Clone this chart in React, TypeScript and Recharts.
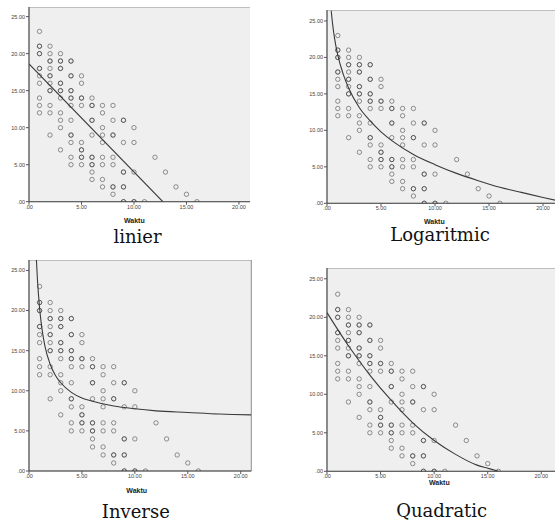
import React from "react"
import { ScatterChart, Scatter, XAxis, YAxis, CartesianGrid, ReferenceArea } from "recharts"

const waktu = [1, 2, 3, 4, 5, 6, 7, 8, 9, 10, 11, 12, 13, 14, 15, 16]
const nilaiPerWaktu = [
  [23, 21, 21, 20, 20, 18, 18, 17, 16, 14, 13, 12],
  [21, 20, 19, 19, 18, 17, 17, 16, 15, 15, 13, 12, 9],
  [20, 19, 19, 18, 18, 16, 16, 15, 15, 14, 12, 11, 10, 7],
  [19, 19, 17, 17, 15, 15, 14, 14, 13, 11, 9, 9, 8, 6, 5],
  [17, 16, 14, 14, 13, 8, 7, 7, 6, 6, 5],
  [14, 13, 13, 11, 11, 9, 6, 6, 5, 5, 4, 3],
  [13, 12, 10, 9, 8, 6, 5, 3, 2],
  [13, 11, 9, 9, 6, 5, 2, 2, 1],
  [11, 11, 8, 4, 4, 2, 2, 0, 0],
  [10, 8, 4, 0, 0],
  [0],
  [6],
  [4],
  [2],
  [1],
  [0],
]

// fitted curves, points
const linierFit = [
  { x: 0, y: 18.6 },
  { x: 12.75, y: 0 },
]
const logFit = [
  { x: 0.39, y: 26.4 }, { x: 0.5, y: 24.8 }, { x: 0.7, y: 22.6 }, { x: 1, y: 20.3 },
  { x: 1.5, y: 17.7 }, { x: 2, y: 15.8 }, { x: 3, y: 13.1 }, { x: 4, y: 11.3 },
  { x: 5, y: 9.8 }, { x: 6, y: 8.6 }, { x: 8, y: 6.7 }, { x: 10, y: 5.3 },
  { x: 12, y: 4.1 }, { x: 14, y: 3.1 }, { x: 16, y: 2.2 }, { x: 18, y: 1.5 },
  { x: 20, y: 0.8 }, { x: 21.2, y: 0.4 },
]
const inverseFit = [
  { x: 0.7, y: 26.3 }, { x: 0.8, y: 23.8 }, { x: 0.9, y: 21.9 }, { x: 1, y: 20.3 },
  { x: 1.25, y: 17.5 }, { x: 1.5, y: 15.6 }, { x: 2, y: 13.3 }, { x: 2.5, y: 11.9 },
  { x: 3, y: 11.0 }, { x: 4, y: 9.8 }, { x: 5, y: 9.1 }, { x: 6, y: 8.7 },
  { x: 8, y: 8.1 }, { x: 10, y: 7.75 }, { x: 12, y: 7.5 }, { x: 15, y: 7.3 },
  { x: 18, y: 7.1 }, { x: 21, y: 7.0 },
]
const quadraticFit = [
  { x: 0, y: 20.6 }, { x: 2, y: 16.3 }, { x: 4, y: 12.5 }, { x: 6, y: 9.2 },
  { x: 8, y: 6.3 }, { x: 10, y: 4.0 }, { x: 12, y: 2.2 }, { x: 14, y: 0.8 },
  { x: 15, y: 0.4 }, { x: 16, y: 0 },
]

const xTicks = [0, 5, 10, 15, 20]
const yTicks = [0, 5, 10, 15, 20, 25]

const points = waktu.flatMap((w, i) => nilaiPerWaktu[i].map((v) => ({ x: w, y: v })))

const fmt = (v: number) => (v === 0 ? ".00" : v.toFixed(2))
const tickStyle = { fontSize: 5.5, fill: "#444", fontFamily: "Liberation Sans, Arial, sans-serif" }
const Y_W = 30
const X_H = 14

const ring = (p: any) => (
  <circle cx={p.cx} cy={p.cy} r={2.2} fill="none" stroke="#2a2a2a" strokeOpacity={0.55} strokeWidth={0.9} />
)
const noDot = () => <g />

interface PanelProps {
  fit: Array<{ x: number; y: number }>
  box: { l: number; t: number; r: number; b: number }
  xMax: number
  yMax: number
  caption: { text: string; x: number; y: number }
  waktu: { x: number; y: number }
}

function Panel({ fit, box, xMax, yMax, caption, waktu: wk }: PanelProps) {
  const w = Y_W + (box.r - box.l)
  const h = box.b - box.t + X_H
  return (
    <>
      <div style={{ position: "absolute", left: box.l - Y_W, top: box.t }}>
        <ScatterChart width={w} height={h} margin={{ top: 0, right: 0, bottom: 0, left: 0 }}>
          <CartesianGrid horizontal={false} vertical={false} fill="#efefef" />
          <ReferenceArea x1={0} x2={xMax} y1={0} y2={yMax} fill="none" stroke="#8c8c8c" strokeWidth={1} />
          <XAxis
            type="number"
            dataKey="x"
            domain={[0, xMax]}
            ticks={xTicks}
            tickFormatter={fmt}
            tick={tickStyle}
            tickSize={3}
            tickMargin={0}
            height={X_H}
            stroke="#555"
            allowDataOverflow
          />
          <YAxis
            type="number"
            dataKey="y"
            domain={[0, yMax]}
            ticks={yTicks}
            tickFormatter={fmt}
            tick={tickStyle}
            tickSize={3}
            tickMargin={1}
            width={Y_W}
            stroke="#555"
            allowDataOverflow
          />
          <Scatter data={points} shape={ring} isAnimationActive={false} />
          <Scatter
            data={fit}
            shape={noDot}
            line={{ stroke: "#3a3a3a", strokeWidth: 1.1 }}
            lineJointType="monotoneX"
            isAnimationActive={false}
          />
        </ScatterChart>
      </div>
      <div
        style={{
          position: "absolute",
          left: wk.x,
          top: wk.y,
          transform: "translate(-50%, -50%)",
          fontFamily: "Liberation Sans, Arial, sans-serif",
          fontSize: 7,
          fontWeight: "bold",
          color: "#222",
        }}
      >
        Waktu
      </div>
      <div
        style={{
          position: "absolute",
          left: caption.x,
          top: caption.y - 15.2,
          transform: "translateX(-50%)",
          fontFamily: "DejaVu Serif, serif",
          fontSize: 18,
          lineHeight: "18px",
          color: "#111",
          whiteSpace: "nowrap",
        }}
      >
        {caption.text}
      </div>
    </>
  )
}

export default function App() {
  return (
    <div
      style={{
        position: "fixed",
        left: 0,
        top: 0,
        width: 555,
        height: 524,
        overflow: "hidden",
        background: "#fff",
      }}
    >
      <Panel
        fit={linierFit}
        box={{ l: 28.5, t: 7, r: 250, b: 201.7 }}
        xMax={21.1}
        yMax={26.3}
        caption={{ text: "linier", x: 137.5, y: 242.7 }}
        waktu={{ x: 134.3, y: 220 }}
      />
      <Panel
        fit={logFit}
        box={{ l: 327, t: 10, r: 556, b: 203.3 }}
        xMax={21.2}
        yMax={26.5}
        caption={{ text: "Logaritmic", x: 440, y: 240.7 }}
        waktu={{ x: 434.3, y: 220.7 }}
      />
      <Panel
        fit={inverseFit}
        box={{ l: 29.4, t: 260, r: 251.7, b: 471 }}
        xMax={21.0}
        yMax={26.3}
        caption={{ text: "Inverse", x: 135.8, y: 518 }}
        waktu={{ x: 136.7, y: 490 }}
      />
      <Panel
        fit={quadraticFit}
        box={{ l: 326.7, t: 267.7, r: 556, b: 471 }}
        xMax={21.4}
        yMax={26.4}
        caption={{ text: "Quadratic", x: 441.7, y: 517 }}
        waktu={{ x: 439.3, y: 481.7 }}
      />
    </div>
  )
}
